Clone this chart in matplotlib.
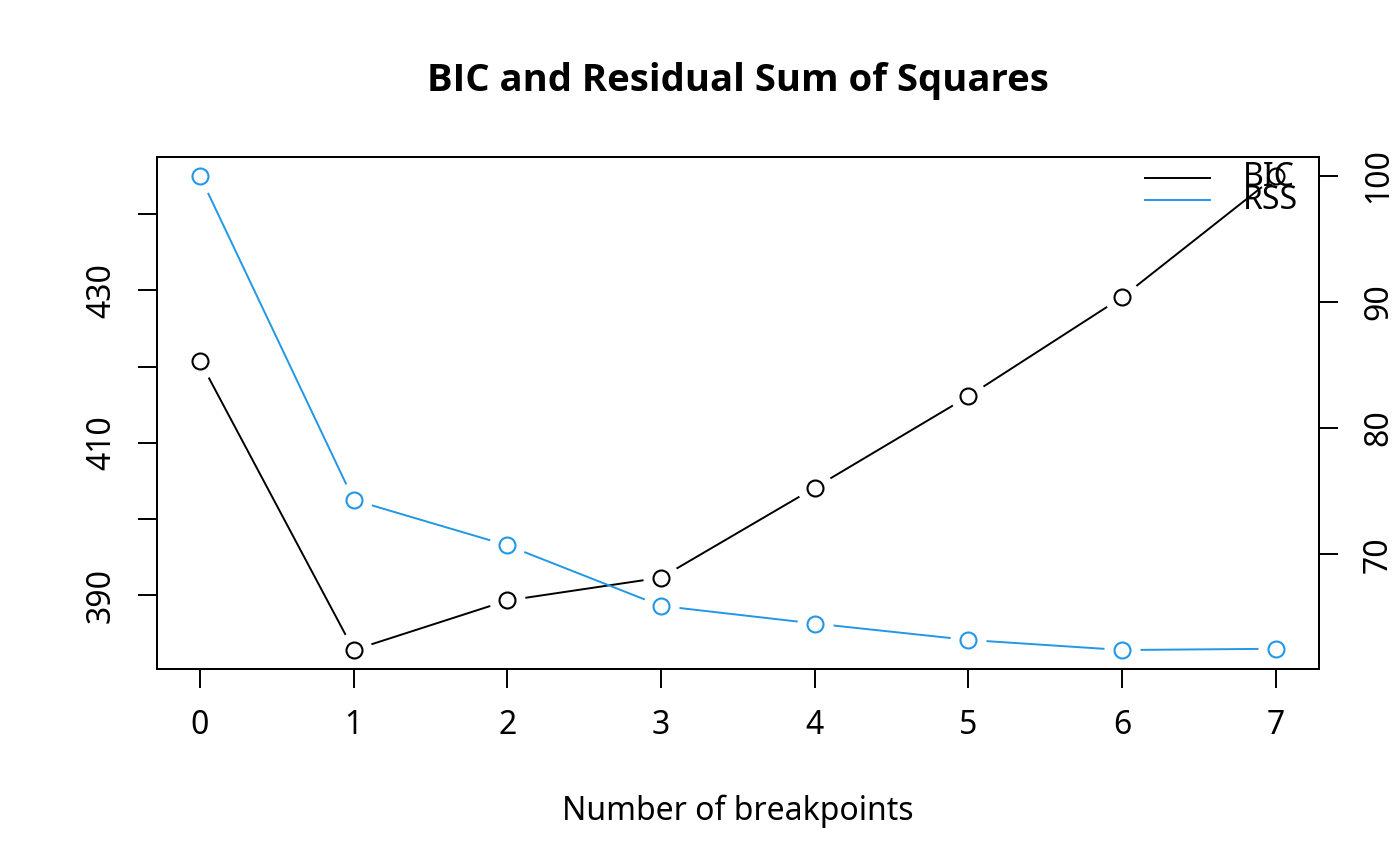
import matplotlib
matplotlib.use("Agg")
import matplotlib.pyplot as plt
import numpy as np

plt.rcParams['font.family'] = ['Noto Sans', 'DejaVu Sans']

# data
breakpoints = [0, 1, 2, 3, 4, 5, 6, 7]
bic = [420.7, 382.8, 389.3, 392.3, 404.1, 416.1, 429.1, 445.0]
rss = [100.0, 74.3, 70.7, 65.9, 64.5, 63.2, 62.4, 62.5]
bic_ticks = [390, 400, 410, 420, 430, 440]
bic_labels = ['390', '', '410', '', '430', '']
rss_ticks = [70, 80, 90, 100]

blue = '#2297E6'
fs = 23


def rlim(v):
    lo, hi = min(v), max(v)
    d = (hi - lo) * 0.04
    return lo - d, hi + d


fig = plt.figure(figsize=(14, 8.66), dpi=100)
ax = fig.add_axes([0.1121, 0.2275, 0.8300, 0.5912])
ax2 = ax.twinx()

# lines, white discs for the gaps, then open circles
ax.plot(breakpoints, bic, color='black', lw=1.4, zorder=1)
ax.plot(breakpoints, bic, ls='none', marker='o', ms=26, mfc='white', mec='none', zorder=2)
ax.plot(breakpoints, bic, ls='none', marker='o', ms=11.5, mfc='white', mec='black', mew=1.5, zorder=3)

ax2.plot(breakpoints, rss, color=blue, lw=1.4, zorder=1)
ax2.plot(breakpoints, rss, ls='none', marker='o', ms=26, mfc='white', mec='none', zorder=2)
ax2.plot(breakpoints, rss, ls='none', marker='o', ms=11.5, mfc='white', mec=blue, mew=1.5, zorder=3)

ax.set_xlim(rlim(breakpoints))
ax.set_ylim(rlim(bic))
ax2.set_ylim(rlim(rss))

ax.set_xticks(breakpoints)
ax.set_yticks(bic_ticks)
ax.set_yticklabels(bic_labels)
ax2.set_yticks(rss_ticks)

for a in (ax, ax2):
    a.tick_params(length=14, width=1.4, labelsize=fs, color='black')
    for s in a.spines.values():
        s.set_linewidth(1.4)
ax.tick_params(axis='x', pad=15)
ax.tick_params(axis='y', labelrotation=90, pad=14)
ax2.tick_params(axis='y', labelrotation=90, pad=17)
for lab in ax.get_yticklabels() + ax2.get_yticklabels():
    lab.set_va('center')

ax.set_xlabel('Number of breakpoints', fontsize=fs, labelpad=38)
fig.text(0.527, 0.907, 'BIC and Residual Sum of Squares', fontsize=27.5,
         family=['Open Sans', 'DejaVu Sans'], fontweight='bold', ha='center', va='center')

# legend, drawn like R's (no box, overlapping text)
ax2.plot([0.850, 0.906], [0.959, 0.959], transform=ax2.transAxes, color='black', lw=1.4, zorder=5)
ax2.plot([0.850, 0.906], [0.916, 0.916], transform=ax2.transAxes, color=blue, lw=1.4, zorder=5)
ax2.text(0.9346, 0.959, 'BIC', transform=ax2.transAxes, fontsize=fs, va='center', zorder=6)
ax2.text(0.9346, 0.916, 'RSS', transform=ax2.transAxes, fontsize=fs, va='center', zorder=6)

fig.savefig('out.png', dpi=100)
